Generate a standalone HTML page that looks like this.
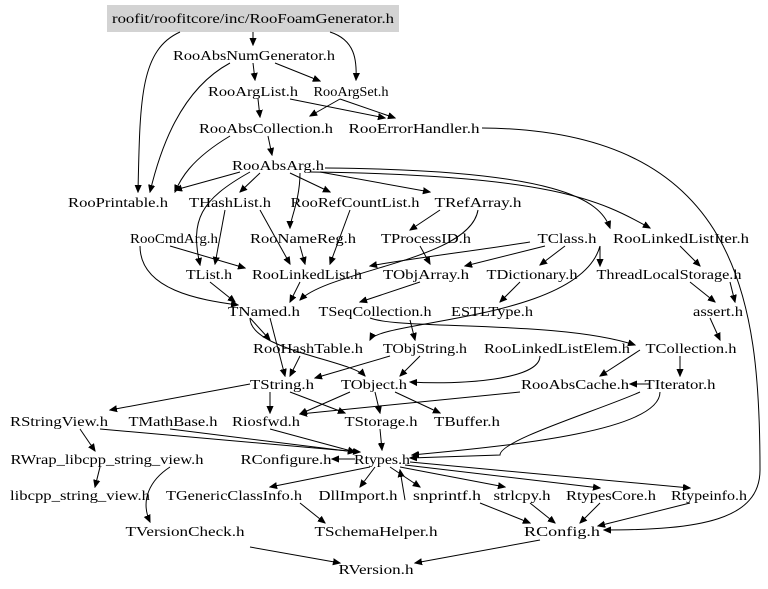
<!DOCTYPE html>
<html><head><meta charset="utf-8"><style>
html,body{margin:0;padding:0;background:#fff;}
svg{display:block;}
text{font-family:"Liberation Serif",serif;font-size:14px;fill:#000;text-anchor:middle;}
path{fill:none;stroke:#000;stroke-width:1;}
</style></head><body>
<svg width="768" height="589" viewBox="0 0 768 589" xmlns="http://www.w3.org/2000/svg">
<defs><marker id="a" markerWidth="8" markerHeight="8" refX="7" refY="4" orient="auto" markerUnits="userSpaceOnUse"><path d="M0,1 L7,4 L0,7 Z" style="fill:#000;stroke:#000"/></marker></defs>
<rect x="107" y="5" width="292" height="27" fill="#d3d3d3"/>
<g marker-end="url(#a)">
<path d="M253,32 L253,45"/>
<path d="M330,32 C355,40 357,60 356,80"/>
<path d="M180,32 C140,50 140,100 138,192"/>
<path d="M253,63 L255,80"/>
<path d="M275,63 L320,81"/>
<path d="M230,63 C180,90 160,150 150,192"/>
<path d="M258,99 L260,117"/>
<path d="M290,99 L385,118"/>
<path d="M340,99 L310,116"/>
<path d="M340,99 L395,118"/>
<path d="M230,136 C190,160 180,180 175,192"/>
<path d="M268,136 L272,155"/>
<path d="M482,128 C740,130 760,300 760,470 C760,520 700,530 604,530"/>
<path d="M310,172 C550,175 600,200 650,228"/>
<path d="M240,172 L175,190"/>
<path d="M260,173 L240,192"/>
<path d="M290,173 L330,192"/>
<path d="M320,172 L430,192"/>
<path d="M325,168 C560,170 600,200 610,228"/>
<path d="M250,172 C200,200 190,220 200,265"/>
<path d="M300,173 C300,200 290,220 290,228"/>
<path d="M225,210 L215,264"/>
<path d="M260,210 L290,264"/>
<path d="M350,210 L330,264"/>
<path d="M440,210 L410,230"/>
<path d="M478,210 C470,260 330,270 300,300"/>
<path d="M140,246 C140,290 200,300 238,305"/>
<path d="M170,246 L245,268"/>
<path d="M300,246 L305,264"/>
<path d="M420,246 L430,264"/>
<path d="M545,246 L465,266"/>
<path d="M565,246 L540,265"/>
<path d="M600,246 L600,266"/>
<path d="M530,242 C480,250 400,260 370,266"/>
<path d="M680,246 L700,266"/>
<path d="M210,282 L235,302"/>
<path d="M300,282 L290,302"/>
<path d="M420,282 L360,302"/>
<path d="M520,282 L500,302"/>
<path d="M730,282 L735,302"/>
<path d="M690,282 L715,302"/>
<path d="M600,246 C580,320 380,320 370,340"/>
<path d="M250,318 L270,340"/>
<path d="M270,318 L285,376"/>
<path d="M250,318 C250,350 350,360 365,376"/>
<path d="M370,318 C400,330 560,320 635,345"/>
<path d="M410,320 L415,340"/>
<path d="M710,318 L720,340"/>
<path d="M300,356 L290,376"/>
<path d="M420,356 L400,376"/>
<path d="M390,356 L315,378"/>
<path d="M540,356 C540,380 460,385 410,382"/>
<path d="M680,356 L680,376"/>
<path d="M640,350 L600,376"/>
<path d="M650,384 L630,384"/>
<path d="M270,392 L270,413"/>
<path d="M290,392 L345,413"/>
<path d="M350,392 L300,414"/>
<path d="M375,392 L380,413"/>
<path d="M395,392 L440,413"/>
<path d="M250,384 L110,410"/>
<path d="M520,392 L300,414"/>
<path d="M660,392 C660,430 520,445 412,455"/>
<path d="M640,392 C600,410 500,440 500,455 L410,458"/>
<path d="M170,429 L355,452"/>
<path d="M270,429 L355,452"/>
<path d="M380,429 L382,450"/>
<path d="M80,429 L95,451"/>
<path d="M100,429 L360,452"/>
<path d="M100,467 L95,487"/>
<path d="M170,467 C150,480 140,500 150,522"/>
<path d="M355,459 L332,459"/>
<path d="M370,467 L270,487"/>
<path d="M375,467 L360,487"/>
<path d="M390,467 L420,487"/>
<path d="M400,467 L505,487"/>
<path d="M405,465 L600,488"/>
<path d="M410,462 L690,488"/>
<path d="M300,503 L325,523"/>
<path d="M480,503 L530,523"/>
<path d="M530,503 L555,523"/>
<path d="M600,503 L580,523"/>
<path d="M690,503 L598,526"/>
<path d="M405,500 L400,470"/>
<path d="M250,547 L340,563"/>
<path d="M540,540 L415,563"/>
</g>
<g lengthAdjust="spacingAndGlyphs">
<text x="253" y="23" textLength="282" lengthAdjust="spacingAndGlyphs">roofit/roofitcore/inc/RooFoamGenerator.h</text>
<text x="254" y="60" textLength="162" lengthAdjust="spacingAndGlyphs">RooAbsNumGenerator.h</text>
<text x="253" y="96" textLength="90" lengthAdjust="spacingAndGlyphs">RooArgList.h</text>
<text x="351" y="96" textLength="75" lengthAdjust="spacingAndGlyphs">RooArgSet.h</text>
<text x="266" y="133" textLength="134" lengthAdjust="spacingAndGlyphs">RooAbsCollection.h</text>
<text x="414" y="133" textLength="131" lengthAdjust="spacingAndGlyphs">RooErrorHandler.h</text>
<text x="278" y="170" textLength="92" lengthAdjust="spacingAndGlyphs">RooAbsArg.h</text>
<text x="118" y="207" textLength="100" lengthAdjust="spacingAndGlyphs">RooPrintable.h</text>
<text x="230" y="207" textLength="82" lengthAdjust="spacingAndGlyphs">THashList.h</text>
<text x="355" y="207" textLength="129" lengthAdjust="spacingAndGlyphs">RooRefCountList.h</text>
<text x="478" y="207" textLength="87" lengthAdjust="spacingAndGlyphs">TRefArray.h</text>
<text x="174" y="243" textLength="88" lengthAdjust="spacingAndGlyphs">RooCmdArg.h</text>
<text x="303" y="243" textLength="106" lengthAdjust="spacingAndGlyphs">RooNameReg.h</text>
<text x="426" y="243" textLength="90" lengthAdjust="spacingAndGlyphs">TProcessID.h</text>
<text x="567" y="243" textLength="59" lengthAdjust="spacingAndGlyphs">TClass.h</text>
<text x="681" y="243" textLength="136" lengthAdjust="spacingAndGlyphs">RooLinkedListIter.h</text>
<text x="209" y="279" textLength="46" lengthAdjust="spacingAndGlyphs">TList.h</text>
<text x="307" y="279" textLength="110" lengthAdjust="spacingAndGlyphs">RooLinkedList.h</text>
<text x="426" y="279" textLength="86" lengthAdjust="spacingAndGlyphs">TObjArray.h</text>
<text x="532" y="279" textLength="91" lengthAdjust="spacingAndGlyphs">TDictionary.h</text>
<text x="669" y="279" textLength="145" lengthAdjust="spacingAndGlyphs">ThreadLocalStorage.h</text>
<text x="264" y="316" textLength="72" lengthAdjust="spacingAndGlyphs">TNamed.h</text>
<text x="375" y="316" textLength="113" lengthAdjust="spacingAndGlyphs">TSeqCollection.h</text>
<text x="492" y="316" textLength="82" lengthAdjust="spacingAndGlyphs">ESTLType.h</text>
<text x="718" y="316" textLength="50" lengthAdjust="spacingAndGlyphs">assert.h</text>
<text x="308" y="353" textLength="110" lengthAdjust="spacingAndGlyphs">RooHashTable.h</text>
<text x="425" y="353" textLength="84" lengthAdjust="spacingAndGlyphs">TObjString.h</text>
<text x="557" y="353" textLength="146" lengthAdjust="spacingAndGlyphs">RooLinkedListElem.h</text>
<text x="691" y="353" textLength="91" lengthAdjust="spacingAndGlyphs">TCollection.h</text>
<text x="282" y="389" textLength="64" lengthAdjust="spacingAndGlyphs">TString.h</text>
<text x="374" y="389" textLength="66" lengthAdjust="spacingAndGlyphs">TObject.h</text>
<text x="575" y="389" textLength="108" lengthAdjust="spacingAndGlyphs">RooAbsCache.h</text>
<text x="680" y="389" textLength="71" lengthAdjust="spacingAndGlyphs">TIterator.h</text>
<text x="59" y="426" textLength="98" lengthAdjust="spacingAndGlyphs">RStringView.h</text>
<text x="173" y="426" textLength="89" lengthAdjust="spacingAndGlyphs">TMathBase.h</text>
<text x="266" y="426" textLength="68" lengthAdjust="spacingAndGlyphs">Riosfwd.h</text>
<text x="381" y="426" textLength="73" lengthAdjust="spacingAndGlyphs">TStorage.h</text>
<text x="467" y="426" textLength="66" lengthAdjust="spacingAndGlyphs">TBuffer.h</text>
<text x="107" y="464" textLength="193" lengthAdjust="spacingAndGlyphs">RWrap_libcpp_string_view.h</text>
<text x="286" y="464" textLength="91" lengthAdjust="spacingAndGlyphs">RConfigure.h</text>
<text x="382" y="464" textLength="56" lengthAdjust="spacingAndGlyphs">Rtypes.h</text>
<text x="80" y="500" textLength="140" lengthAdjust="spacingAndGlyphs">libcpp_string_view.h</text>
<text x="234" y="500" textLength="136" lengthAdjust="spacingAndGlyphs">TGenericClassInfo.h</text>
<text x="358" y="500" textLength="79" lengthAdjust="spacingAndGlyphs">DllImport.h</text>
<text x="447" y="500" textLength="68" lengthAdjust="spacingAndGlyphs">snprintf.h</text>
<text x="522" y="500" textLength="57" lengthAdjust="spacingAndGlyphs">strlcpy.h</text>
<text x="611" y="500" textLength="90" lengthAdjust="spacingAndGlyphs">RtypesCore.h</text>
<text x="709" y="500" textLength="76" lengthAdjust="spacingAndGlyphs">Rtypeinfo.h</text>
<text x="185" y="536" textLength="119" lengthAdjust="spacingAndGlyphs">TVersionCheck.h</text>
<text x="376" y="536" textLength="123" lengthAdjust="spacingAndGlyphs">TSchemaHelper.h</text>
<text x="562" y="536" textLength="76" lengthAdjust="spacingAndGlyphs">RConfig.h</text>
<text x="376" y="574" textLength="75" lengthAdjust="spacingAndGlyphs">RVersion.h</text>
</g>
</svg>
</body></html>
